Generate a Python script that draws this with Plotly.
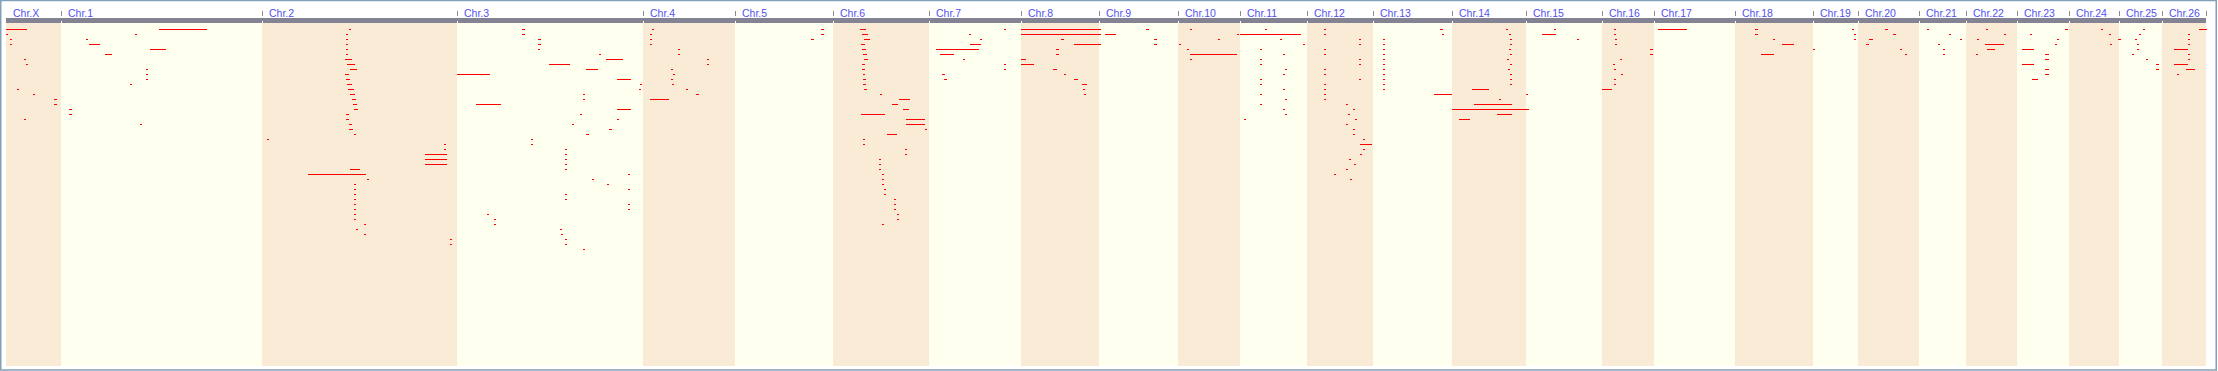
import plotly.graph_objects as go

# ---------------- data ----------------
chrom_names = ["Chr.X", "Chr.1", "Chr.2", "Chr.3", "Chr.4", "Chr.5", "Chr.6", "Chr.7", "Chr.8",
               "Chr.9", "Chr.10", "Chr.11", "Chr.12", "Chr.13", "Chr.14", "Chr.15", "Chr.16",
               "Chr.17", "Chr.18", "Chr.19", "Chr.20", "Chr.21", "Chr.22", "Chr.23", "Chr.24",
               "Chr.25", "Chr.26"]
chrom_lengths = [55, 201, 195, 186, 92, 98, 96, 92, 78, 79, 62, 67, 66, 79, 74, 76, 52,
                 81, 78, 45, 61, 47, 51, 52, 50, 43, 44]

# segments per chromosome: (row, start, end) in chromosome-local units
segs_X = [(0, 0, 21), (1, 0, 2), (2, 4, 6), (3, 4, 6), (6, 18, 20), (7, 20, 22), (12, 11, 13),
          (13, 27, 29), (14, 48, 51), (15, 48, 51), (18, 18, 20)]
segs_1 = [(0, 98, 146), (1, 74, 76), (2, 25, 27), (3, 28, 39), (4, 89, 105), (5, 44, 51),
          (8, 85, 87), (9, 85, 87), (10, 85, 87), (11, 69, 71), (16, 8, 11), (17, 8, 11), (19, 79, 81)]
segs_2 = [(0, 87, 89), (1, 84, 86), (2, 84, 86), (3, 84, 86), (4, 84, 86), (5, 84, 86), (6, 83, 90),
          (7, 85, 93), (8, 88, 95), (9, 83, 87), (10, 84, 88), (11, 85, 90), (12, 86, 92), (13, 88, 93),
          (14, 90, 94), (15, 91, 95), (16, 92, 96), (17, 84, 87), (18, 84, 87), (19, 87, 90),
          (20, 87, 91), (21, 92, 94), (22, 5, 7), (23, 182, 184), (24, 182, 184), (25, 163, 185),
          (26, 163, 185), (27, 163, 185), (28, 88, 98), (29, 46, 104), (30, 105, 107), (31, 92, 94),
          (32, 92, 94), (33, 92, 94), (34, 92, 94), (35, 92, 94), (36, 92, 94), (37, 92, 94),
          (38, 92, 94), (39, 102, 104), (40, 94, 96), (41, 102, 104), (42, 188, 190), (43, 188, 190)]
segs_3 = [(0, 65, 68), (1, 65, 68), (2, 81, 84), (3, 81, 84), (4, 81, 83), (5, 142, 144), (6, 149, 166),
          (7, 92, 113), (8, 129, 141), (9, 0, 33), (10, 160, 174), (11, 183, 185), (12, 182, 184),
          (13, 126, 128), (14, 126, 128), (15, 19, 44), (16, 160, 174), (17, 123, 125), (18, 160, 162),
          (19, 115, 117), (20, 152, 155), (21, 129, 132), (22, 74, 76), (23, 74, 76), (24, 108, 110),
          (25, 108, 110), (26, 108, 110), (27, 108, 110), (28, 108, 110), (29, 171, 173), (30, 135, 137),
          (31, 150, 152), (32, 171, 173), (33, 108, 110), (34, 108, 110), (35, 171, 173), (36, 171, 173),
          (37, 30, 32), (38, 37, 39), (39, 37, 39), (40, 103, 105), (41, 104, 106), (42, 108, 110),
          (43, 108, 110), (44, 126, 128)]
segs_4 = [(0, 9, 11), (1, 7, 9), (2, 7, 9), (3, 7, 9), (4, 35, 37), (5, 35, 37), (6, 64, 66), (7, 64, 66),
          (8, 28, 30), (9, 30, 32), (10, 28, 30), (11, 29, 31), (12, 43, 45), (13, 53, 56), (14, 7, 26)]
segs_5 = [(0, 86, 89), (1, 86, 89), (2, 76, 79)]
segs_6 = [(0, 27, 33), (1, 29, 35), (2, 31, 37), (3, 28, 32), (4, 29, 33), (5, 30, 34), (6, 31, 35),
          (7, 29, 32), (8, 29, 32), (9, 30, 32), (10, 30, 33), (11, 30, 33), (12, 31, 34), (13, 47, 49),
          (14, 66, 77), (15, 59, 65), (16, 70, 76), (17, 28, 52), (18, 73, 92), (19, 73, 92), (20, 92, 94),
          (21, 54, 64), (22, 30, 32), (23, 30, 32), (24, 72, 74), (25, 72, 74), (26, 46, 48), (27, 46, 48),
          (28, 46, 48), (29, 49, 51), (30, 49, 51), (31, 49, 51), (32, 51, 53), (33, 51, 53), (34, 61, 63),
          (35, 61, 63), (36, 61, 63), (37, 64, 66), (38, 64, 66), (39, 49, 51)]
segs_7 = [(0, 75, 77), (1, 40, 42), (2, 51, 53), (3, 41, 52), (4, 7, 50), (5, 11, 25), (6, 34, 36),
          (7, 75, 77), (8, 75, 77), (9, 13, 16), (10, 15, 18)]
segs_8 = [(0, 0, 80), (1, 0, 80), (2, 40, 43), (3, 53, 80), (4, 35, 38), (5, 35, 38), (6, 0, 5), (7, 0, 13),
          (8, 32, 36), (9, 43, 45), (10, 53, 57), (11, 61, 66), (12, 62, 64), (13, 63, 65)]
segs_9 = [(0, 47, 50), (1, 6, 17), (2, 55, 58), (3, 55, 58)]
segs_10 = [(0, 12, 14), (1, 59, 61), (2, 40, 42), (3, 1, 3), (4, 9, 11), (5, 12, 59), (6, 12, 14)]
segs_11 = [(0, 25, 27), (1, 0, 61), (2, 40, 42), (3, 63, 65), (4, 20, 22), (5, 43, 45), (6, 20, 22),
           (7, 20, 22), (8, 45, 47), (9, 43, 45), (10, 20, 22), (11, 20, 22), (12, 43, 45), (13, 20, 22),
           (14, 45, 47), (15, 20, 22), (16, 43, 45), (17, 45, 47), (18, 4, 6)]
segs_12 = [(0, 17, 19), (1, 17, 19), (2, 52, 54), (3, 52, 54), (4, 17, 19), (5, 17, 19), (6, 52, 54),
           (7, 52, 54), (8, 17, 19), (9, 17, 19), (10, 52, 54), (11, 17, 19), (12, 17, 19), (13, 17, 19),
           (14, 17, 19), (15, 39, 41), (16, 46, 48), (17, 41, 43), (18, 48, 50), (19, 39, 41), (20, 46, 48),
           (21, 46, 48), (22, 56, 58), (23, 53, 65), (24, 56, 58), (25, 53, 55), (26, 42, 44), (27, 47, 49),
           (28, 39, 41), (29, 27, 29), (30, 43, 45)]
segs_13 = [(0, 67, 70), (1, 69, 71), (2, 10, 12), (3, 10, 12), (4, 10, 12), (5, 10, 12), (6, 10, 12),
           (7, 10, 12), (8, 10, 12), (9, 10, 12), (10, 10, 12), (11, 10, 12), (12, 10, 12), (13, 61, 79)]
segs_14 = [(0, 54, 56), (1, 57, 59), (2, 58, 60), (3, 58, 60), (4, 57, 59), (5, 58, 60), (6, 55, 57),
           (7, 58, 60), (8, 56, 58), (9, 58, 60), (10, 58, 60), (11, 58, 60), (12, 20, 37), (14, 47, 49),
           (15, 22, 60), (16, 0, 77), (17, 45, 60), (18, 7, 18)]
segs_15 = [(0, 28, 30), (1, 16, 30), (2, 51, 53), (13, 0, 2)]
segs_16 = [(0, 12, 14), (1, 12, 14), (2, 13, 15), (3, 13, 15), (4, 48, 51), (5, 48, 51), (6, 18, 20),
           (7, 11, 13), (8, 12, 14), (9, 19, 21), (10, 12, 14), (11, 12, 14), (12, 0, 10)]
segs_17 = [(0, 4, 33)]
segs_18 = [(0, 20, 23), (1, 20, 23), (2, 38, 40), (3, 47, 59), (5, 26, 39)]
segs_19 = [(0, 39, 41), (1, 41, 43), (2, 41, 43), (4, 0, 2)]
segs_20 = [(0, 27, 30), (1, 35, 38), (2, 11, 15), (3, 8, 11), (4, 42, 44), (5, 47, 49)]
segs_21 = [(0, 8, 10), (1, 30, 32), (2, 41, 43), (3, 19, 21), (4, 24, 26), (5, 24, 26)]
segs_22 = [(0, 20, 22), (1, 38, 40), (2, 11, 13), (3, 19, 38), (4, 21, 29), (5, 10, 12)]
segs_23 = [(0, 48, 51), (1, 13, 15), (2, 40, 42), (3, 38, 40), (4, 5, 17), (5, 28, 32), (6, 28, 32),
           (7, 5, 17), (8, 28, 32), (9, 28, 32), (10, 15, 21)]
segs_24 = [(0, 32, 34), (1, 40, 42), (2, 49, 52), (3, 41, 43)]
segs_25 = [(0, 24, 26), (1, 20, 22), (2, 16, 18), (3, 18, 20), (4, 18, 20), (5, 13, 15), (6, 27, 29),
           (7, 37, 40), (8, 37, 40)]
segs_26 = [(0, 37, 45), (1, 26, 28), (2, 26, 28), (3, 26, 28), (4, 12, 26), (5, 26, 28), (6, 26, 28),
           (7, 12, 26), (8, 24, 33), (9, 15, 17)]

chrom_segments = [segs_X, segs_1, segs_2, segs_3, segs_4, segs_5, segs_6, segs_7, segs_8, segs_9,
                  segs_10, segs_11, segs_12, segs_13, segs_14, segs_15, segs_16, segs_17, segs_18,
                  segs_19, segs_20, segs_21, segs_22, segs_23, segs_24, segs_25, segs_26]

# ---------------- styles ----------------
BAND_COLORS = ["#FAEBD7", "#FFFFF0"]
SEG_COLOR = "#FF0000"
BAR_COLOR = "#838393"
LABEL_COLOR = "#5252EE"
TICK_COLOR = "#8C8C8C"
FRAME_COLOR = "#82A0B8"

W, H = 2218, 371
X_LEFT_PAD = 6            # px before genome start
ROW0_PX, ROW_PX = 29.5, 5.0


def ypx(py):
    """convert pixel row to row units"""
    return (py - ROW0_PX) / ROW_PX


offsets = []
acc = 0
for L in chrom_lengths:
    offsets.append(acc)
    acc += L
total = acc

# segments as one line trace
xs, ys = [], []
for off, segs in zip(offsets, chrom_segments):
    for r, s, e in segs:
        xs += [off + s, off + e, None]
        ys += [r, r, None]

fig = go.Figure()
fig.add_trace(go.Scatter(x=xs, y=ys, mode="lines", line=dict(color=SEG_COLOR, width=1),
                         hoverinfo="skip", showlegend=False))

shapes = []
# chromosome bands
for i, (off, L) in enumerate(zip(offsets, chrom_lengths)):
    shapes.append(dict(type="rect", xref="x", yref="y", x0=off, x1=off + L,
                       y0=ypx(23), y1=ypx(366), fillcolor=BAND_COLORS[i % 2],
                       line=dict(width=0), layer="below"))
# grey header bar
shapes.append(dict(type="rect", xref="x", yref="y", x0=0, x1=total, y0=ypx(18), y1=ypx(23),
                   fillcolor=BAR_COLOR, line=dict(width=0), layer="below"))
# boundary ticks + white notches
for off, L in zip(offsets, chrom_lengths):
    b = off + L + 0.5
    shapes.append(dict(type="line", xref="x", yref="y", x0=b, x1=b, y0=ypx(11), y1=ypx(16),
                       line=dict(color=TICK_COLOR, width=1)))
    shapes.append(dict(type="line", xref="x", yref="y", x0=b, x1=b, y0=ypx(21), y1=ypx(23),
                       line=dict(color="white", width=1)))
# outer frame
shapes.append(dict(type="rect", xref="x", yref="y", x0=0.75 - X_LEFT_PAD, x1=2216.25 - X_LEFT_PAD,
                   y0=ypx(0.5), y1=ypx(369.9), line=dict(color=FRAME_COLOR, width=1.5),
                   fillcolor="rgba(0,0,0,0)"))

annotations = []
for name, off in zip(chrom_names, offsets):
    annotations.append(dict(x=off + 4.5, y=ypx(12.5), xref="x", yref="y", text=name,
                            showarrow=False, xanchor="left", yanchor="middle",
                            font=dict(family="Liberation Sans, Arial, sans-serif", size=10.5,
                                      color=LABEL_COLOR)))

fig.update_layout(
    width=W, height=H, margin=dict(l=0, r=0, t=0, b=0, pad=0),
    paper_bgcolor="white", plot_bgcolor="white",
    xaxis=dict(range=[-X_LEFT_PAD, W - X_LEFT_PAD], visible=False, fixedrange=True),
    yaxis=dict(range=[ypx(H), ypx(0)], visible=False, fixedrange=True),
    shapes=shapes, annotations=annotations, showlegend=False,
)

fig.write_html("out.html", config={"displayModeBar": False},
               post_script="document.body.style.margin='0';document.body.style.overflow='hidden';")
